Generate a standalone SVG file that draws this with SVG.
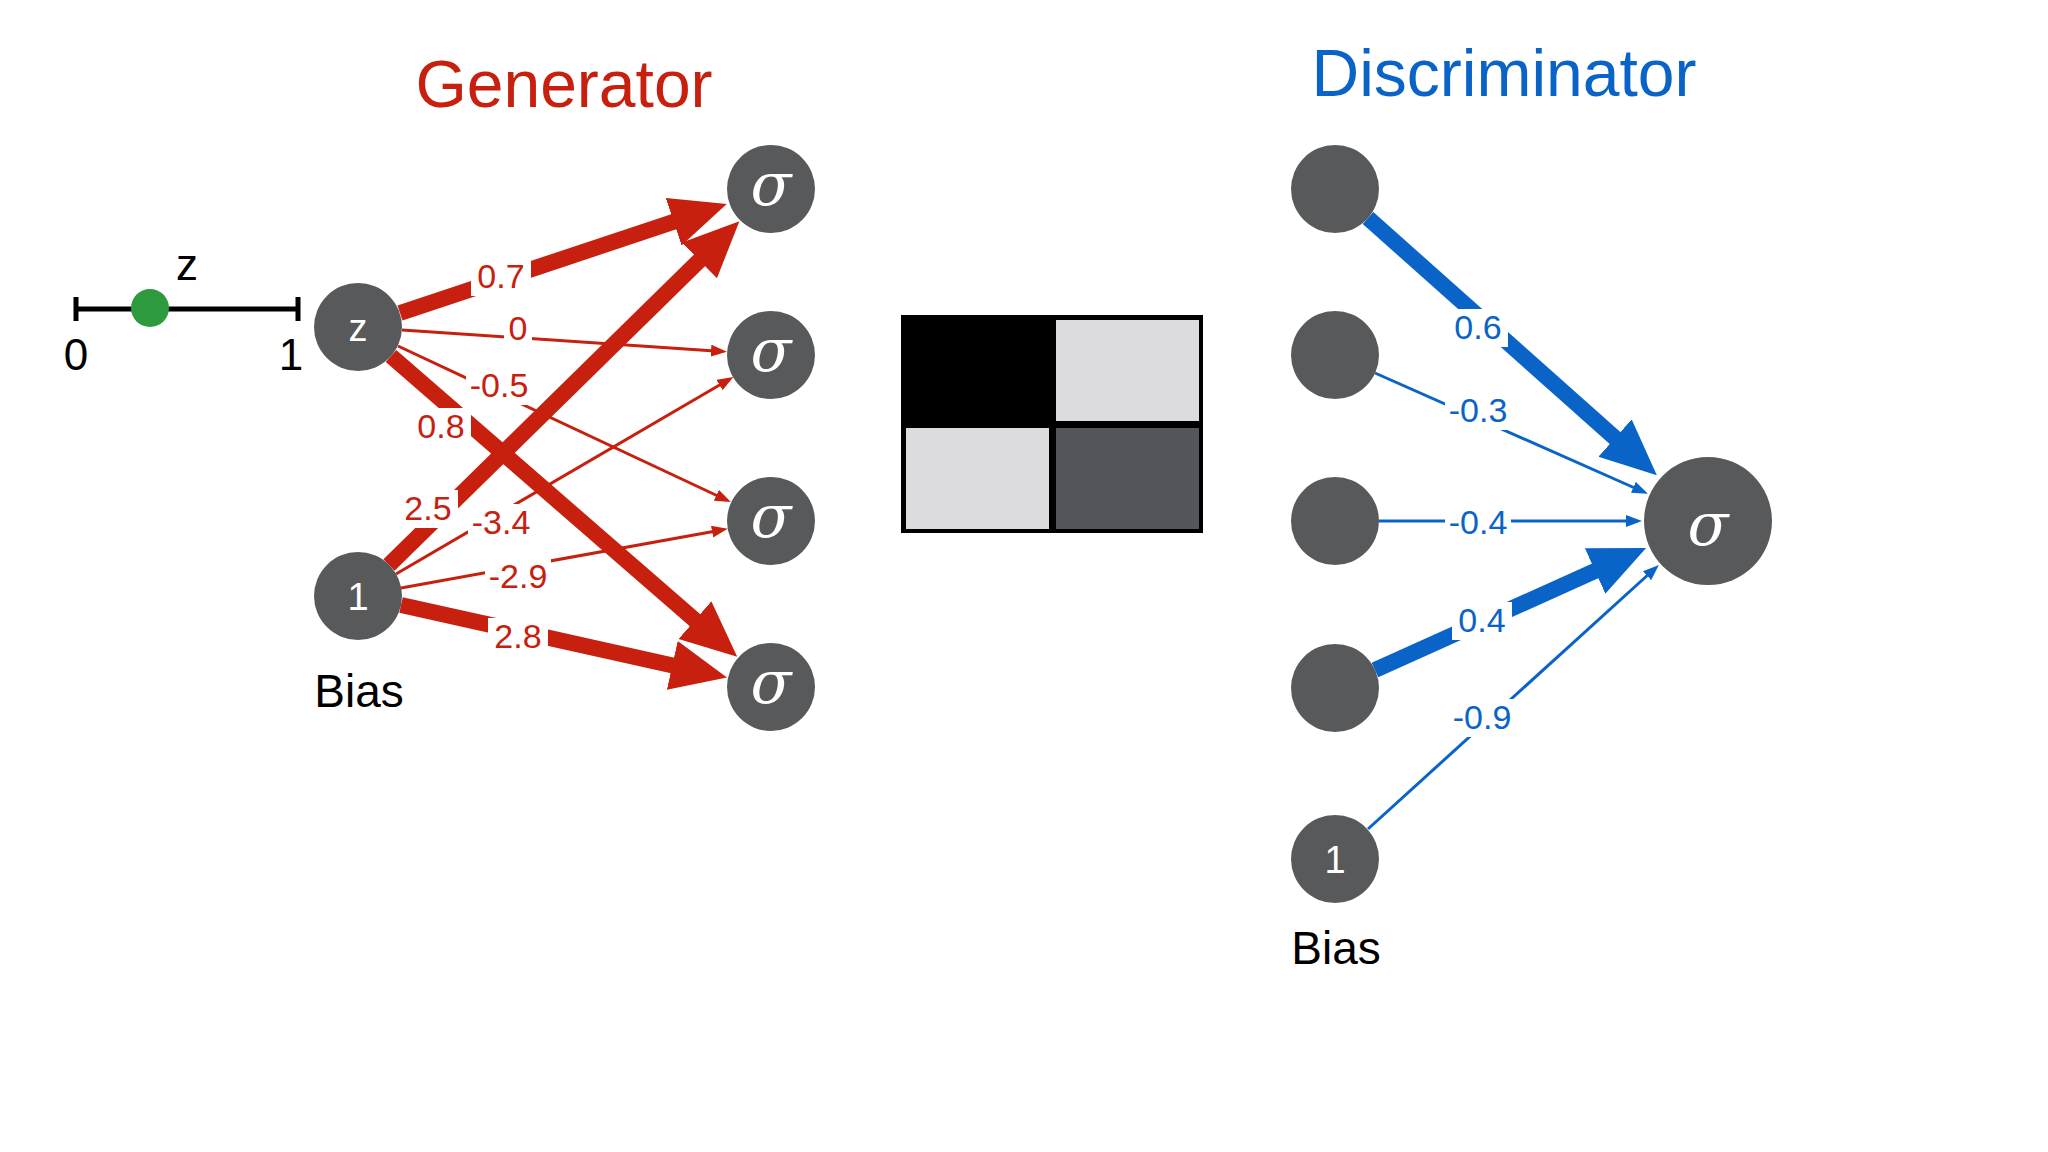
<svg xmlns="http://www.w3.org/2000/svg" width="2048" height="1152" viewBox="0 0 2048 1152">
<style>
.n{fill:#58595b}
.nt{fill:#fff;font-family:"Liberation Sans",sans-serif;font-size:38px;text-anchor:middle}
.sg{fill:#fff;font-family:"DejaVu Serif",serif;font-style:italic;font-size:60px;text-anchor:middle}
.rl{stroke:#c8200e;fill:none}
.bl{stroke:#0a64c8;fill:none}
.lr{fill:#c8200e;font-family:"Liberation Sans",sans-serif;font-size:34px;text-anchor:middle}
.lb{fill:#0a64c8;font-family:"Liberation Sans",sans-serif;font-size:34px;text-anchor:middle}
.bg{fill:#fff}
.bk{font-family:"Liberation Sans",sans-serif;fill:#000;text-anchor:middle}
.thick{stroke-width:16}
.thin{stroke-width:3}
</style>
<defs>
<marker id="rb" markerUnits="userSpaceOnUse" markerWidth="58" markerHeight="52" refX="12" refY="25" orient="auto"><path d="M0,0 L56,25 L0,50 z" fill="#c8200e"/></marker>
<marker id="rs" markerUnits="userSpaceOnUse" markerWidth="17" markerHeight="13" refX="4" refY="6" orient="auto"><path d="M0,0 L16,6 L0,12 z" fill="#c8200e"/></marker>
<marker id="bb" markerUnits="userSpaceOnUse" markerWidth="58" markerHeight="52" refX="12" refY="25" orient="auto"><path d="M0,0 L56,25 L0,50 z" fill="#0a64c8"/></marker>
<marker id="bs" markerUnits="userSpaceOnUse" markerWidth="17" markerHeight="13" refX="4" refY="6" orient="auto"><path d="M0,0 L16,6 L0,12 z" fill="#0a64c8"/></marker>
</defs>
<rect width="2048" height="1152" fill="#fff"/>
<text x="564" y="107" fill="#c8200e" font-family="Liberation Sans,sans-serif" font-size="66" text-anchor="middle">Generator</text>
<text x="1504" y="96" fill="#0a64c8" font-family="Liberation Sans,sans-serif" font-size="66" text-anchor="middle">Discriminator</text>
<g id="zline">
<line x1="74" y1="309" x2="300" y2="309" stroke="#000" stroke-width="5"/>
<line x1="76" y1="297" x2="76" y2="321" stroke="#000" stroke-width="5"/>
<line x1="298" y1="297" x2="298" y2="321" stroke="#000" stroke-width="5"/>
<circle cx="150" cy="308" r="19" fill="#2e9a3e"/>
<text class="bk" x="76" y="370" font-size="44">0</text>
<text class="bk" x="291" y="370" font-size="44">1</text>
<text class="bk" x="187" y="280" font-size="44">z</text>
</g>
<g id="connectors">
<line class="rl thick" x1="400" y1="313" x2="685" y2="218" marker-end="url(#rb)"/>
<line class="rl thin" x1="402" y1="330" x2="715" y2="351" marker-end="url(#rs)"/>
<line class="rl thin" x1="398" y1="346" x2="720" y2="497" marker-end="url(#rs)"/>
<line class="rl thick" x1="391" y1="356" x2="704" y2="628" marker-end="url(#rb)"/>
<line class="rl thick" x1="389" y1="565" x2="708" y2="252" marker-end="url(#rb)"/>
<line class="rl thin" x1="396" y1="574" x2="723" y2="383" marker-end="url(#rs)"/>
<line class="rl thin" x1="401" y1="588" x2="716" y2="531" marker-end="url(#rs)"/>
<line class="rl thick" x1="401" y1="605" x2="684" y2="668" marker-end="url(#rb)"/>
<rect class="bg" x="471" y="258" width="60" height="38"/><text class="lr" x="501" y="288">0.7</text>
<rect class="bg" x="504" y="310" width="28" height="38"/><text class="lr" x="518" y="340">0</text>
<rect class="bg" x="466" y="367" width="66" height="38"/><text class="lr" x="499" y="397">-0.5</text>
<rect class="bg" x="411" y="408" width="60" height="38"/><text class="lr" x="441" y="438">0.8</text>
<rect class="bg" x="398" y="490" width="60" height="38"/><text class="lr" x="428" y="520">2.5</text>
<rect class="bg" x="468" y="504" width="66" height="38"/><text class="lr" x="501" y="534">-3.4</text>
<rect class="bg" x="485" y="558" width="66" height="38"/><text class="lr" x="518" y="588">-2.9</text>
<rect class="bg" x="488" y="618" width="60" height="38"/><text class="lr" x="518" y="648">2.8</text>
<line class="bl thick" x1="1368" y1="218" x2="1624" y2="446" marker-end="url(#bb)"/>
<line class="bl thin" x1="1375" y1="373" x2="1637" y2="489" marker-end="url(#bs)"/>
<line class="bl thin" x1="1379" y1="521" x2="1630" y2="521" marker-end="url(#bs)"/>
<line class="bl thick" x1="1375" y1="670" x2="1606" y2="566" marker-end="url(#bb)"/>
<line class="bl thin" x1="1368" y1="829" x2="1650" y2="573" marker-end="url(#bs)"/>
<rect class="bg" x="1448" y="309" width="60" height="38"/><text class="lb" x="1478" y="339">0.6</text>
<rect class="bg" x="1445" y="392" width="66" height="38"/><text class="lb" x="1478" y="422">-0.3</text>
<rect class="bg" x="1445" y="504" width="66" height="38"/><text class="lb" x="1478" y="534">-0.4</text>
<rect class="bg" x="1452" y="602" width="60" height="38"/><text class="lb" x="1482" y="632">0.4</text>
<rect class="bg" x="1449" y="699" width="66" height="38"/><text class="lb" x="1482" y="729">-0.9</text>
</g>
<g id="gz"><circle class="n" cx="358" cy="327" r="44"/><text class="nt" x="358" y="341">z</text></g>
<g id="gb"><circle class="n" cx="358" cy="596" r="44"/><text class="nt" x="358" y="610">1</text><text class="bk" x="359" y="707" font-size="46">Bias</text></g>
<g id="s1"><circle class="n" cx="771" cy="189" r="44"/><text class="sg" x="771" y="205">σ</text></g>
<g id="s2"><circle class="n" cx="771" cy="355" r="44"/><text class="sg" x="771" y="371">σ</text></g>
<g id="s3"><circle class="n" cx="771" cy="521" r="44"/><text class="sg" x="771" y="537">σ</text></g>
<g id="s4"><circle class="n" cx="771" cy="687" r="44"/><text class="sg" x="771" y="703">σ</text></g>
<g id="img">
<rect x="901" y="315" width="302" height="218" fill="#000"/>
<rect x="1056" y="320" width="143" height="101" fill="#dcdcde"/>
<rect x="906" y="428" width="143" height="101" fill="#dcdcde"/>
<rect x="1056" y="428" width="143" height="101" fill="#53565b"/>
</g>
<g id="d1"><circle class="n" cx="1335" cy="189" r="44"/></g>
<g id="d2"><circle class="n" cx="1335" cy="355" r="44"/></g>
<g id="d3"><circle class="n" cx="1335" cy="521" r="44"/></g>
<g id="d4"><circle class="n" cx="1335" cy="688" r="44"/></g>
<g id="db"><circle class="n" cx="1335" cy="859" r="44"/><text class="nt" x="1335" y="873">1</text><text class="bk" x="1336" y="964" font-size="46">Bias</text></g>
<g id="dout"><circle class="n" cx="1708" cy="521" r="64"/><text class="sg" x="1708" y="545" font-size="82">σ</text></g>
</svg>
